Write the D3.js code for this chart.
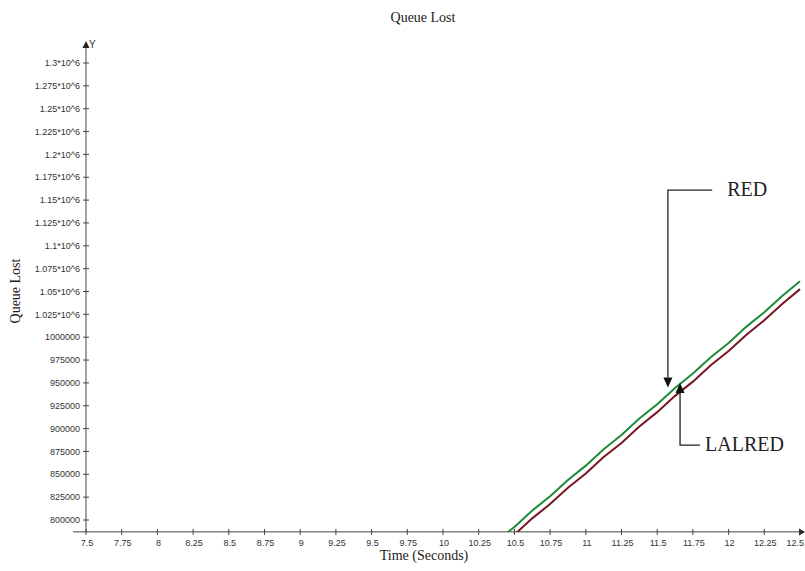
<!DOCTYPE html>
<html>
<head>
<meta charset="utf-8">
<script src="https://cdnjs.cloudflare.com/ajax/libs/d3/7.8.5/d3.min.js"></script>
<style>
  body { margin: 0; background: #fff; }
  svg { display: block; }
  .tick-label { font-family: "Liberation Sans Narrow", "Arial Narrow", "Liberation Sans", sans-serif; font-size: 9px; fill: #333; }
  .serif { font-family: "Liberation Serif", "Times New Roman", serif; fill: #222; }
</style>
</head>
<body>
<svg id="chart" width="805" height="571"></svg>
<script>
// data
var xTicks = [7.5, 7.75, 8, 8.25, 8.5, 8.75, 9, 9.25, 9.5, 9.75, 10, 10.25, 10.5, 10.75, 11, 11.25, 11.5, 11.75, 12, 12.25, 12.5];
var yTicks = [800000, 825000, 850000, 875000, 900000, 925000, 950000, 975000, 1000000,
  1025000, 1050000, 1075000, 1100000, 1125000, 1150000, 1175000, 1200000, 1225000, 1250000, 1275000, 1300000];

var times = [10.25, 10.375, 10.5, 10.625, 10.75, 10.875, 11, 11.125, 11.25, 11.375, 11.5, 11.625, 11.75, 11.875, 12, 12.125, 12.25, 12.375, 12.5];
var redQueue = [759500, 776900, 792400, 810300, 826000, 843800, 859500, 877400, 892900, 911000, 926600, 944500, 960200, 978100, 993700, 1011600, 1027200, 1045000, 1061300];
var lalredQueue = [751000, 768300, 783900, 801800, 817400, 835200, 850800, 868900, 884300, 902300, 918000, 935800, 951400, 969300, 984900, 1002800, 1018500, 1036300, 1052600];

// annotations in data units: arrow tip, elbow, end of leader
var noteLabels = ["RED", "LALRED"];
var noteTipT = [11.575, 11.66];
var noteTipV = [945000, 950000];
var noteElbowV = [1161000, 882000];
var noteEndT = [11.885, 11.80];

var svg = d3.select("#chart");

var x = d3.scaleLinear().domain([7.5, 12.5]).range([86, 800]);
var y = d3.scaleLinear().domain([800000, 1300000]).range([520, 63]);
var xAxisY = y(787000);
var yAxisX = x(7.5);

// clip for the plot lines
svg.append("clipPath").attr("id", "plotclip")
  .append("rect")
  .attr("x", yAxisX).attr("y", 40)
  .attr("width", 805 - yAxisX).attr("height", xAxisY - 40);

// title
svg.append("text").attr("class", "serif")
  .attr("x", 423).attr("y", 22)
  .attr("text-anchor", "middle").style("font-size", "14px")
  .text("Queue Lost");

// y axis
var yAxis = svg.append("g").attr("class", "y-axis");
yAxis.append("line")
  .attr("x1", yAxisX).attr("x2", yAxisX)
  .attr("y1", xAxisY).attr("y2", 46)
  .attr("stroke", "#444").attr("stroke-width", 1);
yAxis.append("path")
  .attr("d", "M" + yAxisX + ",41 l-3.5,7 l7,0 z")
  .attr("fill", "#222");
yAxis.append("text").attr("class", "tick-label")
  .attr("x", yAxisX + 3).attr("y", 48).style("font-size", "10px")
  .text("Y");

var yt = yAxis.selectAll("g.tick").data(yTicks).enter().append("g").attr("class", "tick");
yt.append("line")
  .attr("x1", yAxisX - 3).attr("x2", yAxisX + 3)
  .attr("y1", function(d) { return y(d); }).attr("y2", function(d) { return y(d); })
  .attr("stroke", "#444");
yt.append("text").attr("class", "tick-label")
  .attr("x", yAxisX - 6).attr("y", function(d) { return y(d); })
  .attr("dy", "0.35em").attr("text-anchor", "end")
  .text(function(d) { return d > 1000000 ? (d / 1000000) + "*10^6" : String(d); });

// x axis
var xAxis = svg.append("g").attr("class", "x-axis");
xAxis.append("line")
  .attr("x1", yAxisX - 13).attr("x2", 802)
  .attr("y1", xAxisY).attr("y2", xAxisY)
  .attr("stroke", "#444").attr("stroke-width", 1);
xAxis.append("path")
  .attr("d", "M805," + xAxisY + " l-6,-3.5 l0,7 z")
  .attr("fill", "#222");

var xt = xAxis.selectAll("g.tick").data(xTicks).enter().append("g").attr("class", "tick");
xt.append("line")
  .attr("x1", function(d) { return x(d); }).attr("x2", function(d) { return x(d); })
  .attr("y1", xAxisY - 3).attr("y2", xAxisY + 3)
  .attr("stroke", "#444");
xt.append("text").attr("class", "tick-label")
  .attr("x", function(d, i) { return i === xTicks.length - 1 ? 804 : x(d) + 1; })
  .attr("y", xAxisY + 14)
  .attr("text-anchor", function(d, i) { return i === xTicks.length - 1 ? "end" : "middle"; })
  .text(function(d) { return String(d); });

// axis titles
svg.append("text").attr("class", "serif")
  .attr("x", 424).attr("y", 560)
  .attr("text-anchor", "middle").style("font-size", "14px")
  .text("Time (Seconds)");
svg.append("text").attr("class", "serif")
  .attr("transform", "translate(20,291) rotate(-90)")
  .attr("text-anchor", "middle").style("font-size", "14px")
  .text("Queue Lost");

// series
var line = d3.line()
  .x(function(d) { return x(d[0]); })
  .y(function(d) { return y(d[1]); });

var plot = svg.append("g").attr("clip-path", "url(#plotclip)");
plot.append("path")
  .datum(d3.zip(times, lalredQueue))
  .attr("d", line)
  .attr("fill", "none").attr("stroke", "#7a1620").attr("stroke-width", 2);
plot.append("path")
  .datum(d3.zip(times, redQueue))
  .attr("d", line)
  .attr("fill", "none").attr("stroke", "#1f8a3a").attr("stroke-width", 2);

// annotations
var notes = svg.append("g").attr("class", "notes");
noteLabels.forEach(function(lbl, i) {
  var tx = x(noteTipT[i]), ty = y(noteTipV[i]);
  var ey = y(noteElbowV[i]), ex = x(noteEndT[i]);
  var dir = ey < ty ? 1 : -1; // arrow pointing down (1) or up (-1)
  var baseY = ty - dir * 10;
  notes.append("path")
    .attr("d", "M" + ex + "," + ey + " L" + tx + "," + ey + " L" + tx + "," + baseY)
    .attr("fill", "none").attr("stroke", "#222").attr("stroke-width", 1.3);
  notes.append("path")
    .attr("d", "M" + tx + "," + ty + " L" + (tx - 4.5) + "," + baseY + " L" + (tx + 4.5) + "," + baseY + " Z")
    .attr("fill", "#111");
  notes.append("text").attr("class", "serif")
    .attr("x", ex + (i === 0 ? 15 : 5)).attr("y", ey + 6)
    .style("font-size", "20px")
    .text(lbl);
});
</script>
</body>
</html>
